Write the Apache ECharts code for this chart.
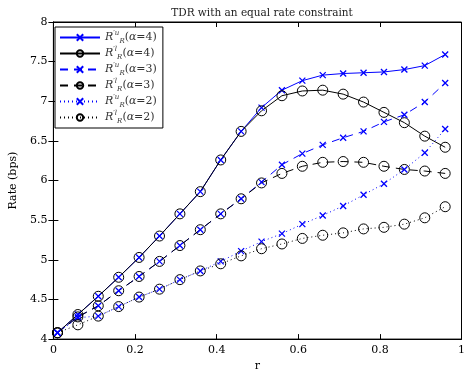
<!DOCTYPE html>
<html><head><meta charset="utf-8">
<script src="https://cdn.jsdelivr.net/npm/echarts@6/dist/echarts.min.js"></script>
<style>html,body{margin:0;padding:0;background:#fff}#c{width:468px;height:377px}</style>
</head><body><div id="c"></div>
<script>
const r = [0.01,0.06,0.11,0.16,0.21,0.26,0.31,0.36,0.41,0.46,0.51,0.56,0.61,0.66,0.71,0.76,0.81,0.86,0.91,0.96];
const u4 = [4.08,4.31,4.54,4.78,5.03,5.30,5.58,5.86,6.26,6.62,6.92,7.14,7.26,7.33,7.35,7.36,7.37,7.40,7.45,7.59];
const l4 = [4.08,4.31,4.54,4.78,5.03,5.30,5.58,5.86,6.26,6.62,6.88,7.07,7.13,7.14,7.09,6.99,6.86,6.73,6.56,6.42];
const u3 = [4.08,4.28,4.42,4.61,4.79,4.98,5.18,5.38,5.58,5.77,5.98,6.20,6.34,6.45,6.54,6.62,6.74,6.83,6.99,7.23];
const l3 = [4.08,4.28,4.42,4.61,4.79,4.98,5.18,5.38,5.58,5.77,5.97,6.09,6.18,6.23,6.24,6.23,6.18,6.14,6.12,6.09];
const u2 = [4.08,4.27,4.29,4.41,4.53,4.63,4.75,4.86,4.98,5.11,5.23,5.33,5.45,5.56,5.68,5.82,5.96,6.14,6.35,6.65];
const l2 = [4.08,4.18,4.29,4.41,4.53,4.63,4.75,4.86,4.95,5.05,5.14,5.20,5.27,5.31,5.34,5.39,5.41,5.45,5.53,5.67];
const names = ['u4','l4','u3','l3','u2','l2'];
const labelText = {
  u4: ['u','4'], l4: ['l','4'], u3: ['u','3'], l3: ['l','3'], u2: ['u','2'], l2: ['l','2']
};
const titleText = 'TDR with an equal rate constraint';
const xName = 'r';
const yName = 'Rate (bps)';

const FONT = 'DejaVu Serif';
const BLUE = '#0000ff';
const CROSS = 'path://M0,0L10,10M10,0L0,10';
function pair(ys){ return r.map((x,i)=>[x, ys[i]]); }
function mk(name, ys, kind, type){
  const isU = kind === 'u';
  return {
    name, type: 'line', data: pair(ys),
    symbol: isU ? CROSS : 'circle',
    symbolSize: isU ? 6 : 10,
    showAllSymbol: true,
    lineStyle: { color: isU ? BLUE : '#000', width: 1, type },
    itemStyle: isU ? { color: 'transparent', borderColor: BLUE, borderWidth: 1.3 }
                   : { color: 'transparent', borderColor: '#000', borderWidth: 1 },
    emphasis: { disabled: true },
    animation: false, z: 2
  };
}
const chart = echarts.init(document.getElementById('c'), null, {renderer: 'canvas'});
const axisTxt = { fontFamily: FONT, fontSize: 11, color: '#000' };
chart.setOption({
  animation: false,
  title: { text: titleText, left: 257, top: 3, textAlign: 'center',
    textStyle: { fontFamily: FONT, fontSize: 10.5, fontWeight: 'normal', color: '#222' } },
  grid: { left: 53, right: 6, top: 22, bottom: 32, show: true, borderColor: '#000', borderWidth: 1 },
  legend: {
    orient: 'vertical', left: 55, top: 27, data: names,
    itemWidth: 40, itemHeight: 8, itemGap: 1,
    backgroundColor: '#fff', borderColor: '#000', borderWidth: 1, padding: [3, 6, 3, 4],
    formatter: n => '{i|R}{s|′' + labelText[n][0] + '}{b|R}{n|(}{i|α}{n|=' + labelText[n][1] + ')}',
    textStyle: { fontFamily: FONT, fontSize: 11, color: '#000', lineHeight: 15,
      rich: {
        i: { fontFamily: FONT, fontStyle: 'italic', fontSize: 11, color: '#333' },
        n: { fontFamily: FONT, fontSize: 11, color: '#333' },
        s: { fontFamily: FONT, fontStyle: 'italic', fontSize: 7, color: '#333', verticalAlign: 'top', lineHeight: 15 },
        b: { fontFamily: FONT, fontStyle: 'italic', fontSize: 7, color: '#333', verticalAlign: 'bottom', lineHeight: 15 }
      } }
  },
  xAxis: [{
    type: 'value', min: 0, max: 1, interval: 0.2,
    name: xName, nameLocation: 'middle', nameGap: 20, nameTextStyle: axisTxt,
    axisLine: { lineStyle: { color: '#000' } },
    axisTick: { inside: true, length: 5, lineStyle: { color: '#000' } },
    axisLabel: Object.assign({ margin: 6, formatter: v => String(+v.toFixed(1)) }, axisTxt),
    splitLine: { show: false }
  }, {
    type: 'value', min: 0, max: 1, interval: 0.2, position: 'top',
    axisLine: { lineStyle: { color: '#000' } },
    axisTick: { inside: true, length: 5, lineStyle: { color: '#000' } },
    axisLabel: { show: false }, splitLine: { show: false }
  }],
  yAxis: [{
    type: 'value', min: 4, max: 8, interval: 0.5,
    name: yName, nameLocation: 'middle', nameGap: 30, nameTextStyle: axisTxt,
    axisLine: { lineStyle: { color: '#000' } },
    axisTick: { inside: true, length: 5, lineStyle: { color: '#000' } },
    axisLabel: Object.assign({ margin: 6 }, axisTxt),
    splitLine: { show: false }
  }, {
    type: 'value', min: 4, max: 8, interval: 0.5, position: 'right',
    axisLine: { lineStyle: { color: '#000' } },
    axisTick: { inside: true, length: 5, lineStyle: { color: '#000' } },
    axisLabel: { show: false }, splitLine: { show: false }
  }],
  series: [
    mk('u4', u4, 'u', 'solid'),
    mk('l4', l4, 'l', 'solid'),
    mk('u3', u3, 'u', [8, 6]),
    mk('l3', l3, 'l', [8, 6]),
    mk('u2', u2, 'u', [1, 3]),
    mk('l2', l2, 'l', [1, 3])
  ]
});
</script></body></html>
